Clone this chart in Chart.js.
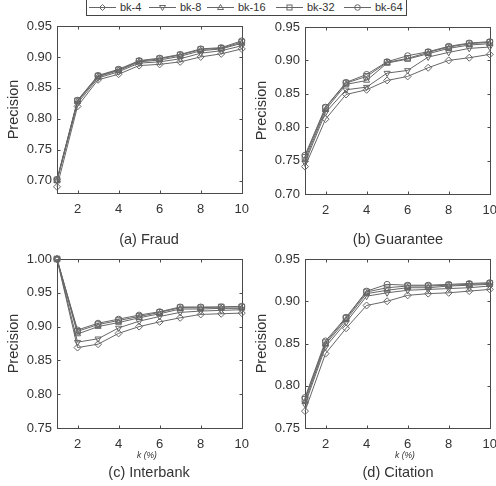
<!DOCTYPE html>
<html><head><meta charset="utf-8">
<script src="https://cdn.jsdelivr.net/npm/chart.js@4.4.0/dist/chart.umd.min.js"></script>
<style>
html,body{margin:0;padding:0;background:#fff;overflow:hidden;width:496px;height:486px;}
body{position:relative;font-family:"Liberation Sans",Arial,sans-serif;color:#333;}
canvas{position:absolute;}
.cap{position:absolute;font-size:14.5px;transform:translate(-50%,-50%);white-space:nowrap;color:#333;}
.kx{position:absolute;font-size:8.5px;font-style:italic;transform:translate(-50%,-50%);white-space:nowrap;color:#333;}
#legend{position:absolute;left:86px;top:-1px;width:321px;height:17px;border:1px solid #444;box-sizing:border-box;background:#fff;}
.li{position:absolute;top:0;height:15px;}
.li svg{position:absolute;left:0;top:0;}
.li span{position:absolute;left:31px;top:0;font-size:11px;line-height:15px;white-space:nowrap;color:#333;}
</style></head><body>
<canvas id="ca" width="258" height="220" style="left:0;top:0"></canvas>
<canvas id="cb" width="258" height="221" style="left:248px;top:0"></canvas>
<canvas id="cc" width="258" height="215" style="left:0;top:240px"></canvas>
<canvas id="cd" width="258" height="215" style="left:248px;top:240px"></canvas>
<div id="legend"></div>
<div class="cap" style="left:149px;top:239px">(a) Fraud</div>
<div class="cap" style="left:398px;top:239px">(b) Guarantee</div>
<div class="kx" style="left:147px;top:455px">k (%)</div>
<div class="kx" style="left:405px;top:455px">k (%)</div>
<div class="cap" style="left:149px;top:472px">(c) Interbank</div>
<div class="cap" style="left:398px;top:472px">(d) Citation</div>
<script>
// ---- data ----
const kValues = [1, 2, 3, 4, 5, 6, 7, 8, 9, 10];
const seriesNames = ['bk-4', 'bk-8', 'bk-16', 'bk-32', 'bk-64'];
const xTicks = [2, 4, 6, 8, 10];

const fraudBk4  = [0.690, 0.820, 0.863, 0.872, 0.886, 0.888, 0.892, 0.900, 0.905, 0.913];
const fraudBk8  = [0.700, 0.825, 0.866, 0.876, 0.890, 0.892, 0.897, 0.906, 0.910, 0.918];
const fraudBk16 = [0.700, 0.828, 0.868, 0.878, 0.892, 0.895, 0.901, 0.910, 0.913, 0.922];
const fraudBk32 = [0.701, 0.829, 0.869, 0.879, 0.893, 0.897, 0.903, 0.912, 0.914, 0.924];
const fraudBk64 = [0.702, 0.830, 0.870, 0.880, 0.894, 0.898, 0.904, 0.913, 0.915, 0.926];
const fraudYTicks = [0.70, 0.75, 0.80, 0.85, 0.90, 0.95];

const guarBk4  = [0.741, 0.812, 0.849, 0.856, 0.870, 0.876, 0.889, 0.900, 0.904, 0.909];
const guarBk8  = [0.747, 0.822, 0.856, 0.860, 0.881, 0.885, 0.905, 0.912, 0.918, 0.920];
const guarBk16 = [0.751, 0.826, 0.864, 0.870, 0.896, 0.902, 0.910, 0.918, 0.923, 0.925];
const guarBk32 = [0.755, 0.829, 0.866, 0.876, 0.897, 0.903, 0.912, 0.920, 0.925, 0.927];
const guarBk64 = [0.758, 0.830, 0.867, 0.879, 0.898, 0.907, 0.913, 0.921, 0.926, 0.928];
const guarYTicks = [0.70, 0.75, 0.80, 0.85, 0.90, 0.95];

const interBk4  = [1.000, 0.869, 0.874, 0.890, 0.900, 0.907, 0.913, 0.918, 0.919, 0.920];
const interBk8  = [1.000, 0.877, 0.882, 0.898, 0.908, 0.915, 0.921, 0.923, 0.924, 0.925];
const interBk16 = [1.000, 0.889, 0.900, 0.906, 0.913, 0.919, 0.926, 0.926, 0.927, 0.927];
const interBk32 = [1.000, 0.893, 0.903, 0.909, 0.915, 0.921, 0.928, 0.928, 0.929, 0.929];
const interBk64 = [1.000, 0.895, 0.905, 0.911, 0.917, 0.922, 0.929, 0.929, 0.929, 0.930];
const interYTicks = [0.75, 0.80, 0.85, 0.90, 0.95, 1.00];

const citeBk4  = [0.770, 0.838, 0.868, 0.895, 0.900, 0.907, 0.909, 0.910, 0.912, 0.914];
const citeBk8  = [0.778, 0.846, 0.875, 0.906, 0.910, 0.913, 0.914, 0.915, 0.916, 0.918];
const citeBk16 = [0.781, 0.849, 0.878, 0.909, 0.913, 0.916, 0.916, 0.918, 0.919, 0.920];
const citeBk32 = [0.784, 0.851, 0.880, 0.911, 0.916, 0.918, 0.918, 0.919, 0.920, 0.921];
const citeBk64 = [0.786, 0.853, 0.881, 0.912, 0.920, 0.919, 0.919, 0.920, 0.921, 0.922];
const citeYTicks = [0.75, 0.80, 0.85, 0.90, 0.95];

// ---- style ----
const FONT = '"Liberation Sans", Arial, sans-serif';
const LINE = '#666666';
const AXC = '#4a4a4a';
const TXT = '#333333';
const markers = [
  {style: 'rectRot', rot: 0, r: 3.5},
  {style: 'triangle', rot: 180, r: 3.5},
  {style: 'triangle', rot: 0, r: 3.5},
  {style: 'rect', rot: 0, r: 4},
  {style: 'circle', rot: 0, r: 3}
];

const boxPlugin = {
  id: 'matlabBox',
  beforeDatasetsDraw(chart) {
    const {ctx, chartArea} = chart;
    const {left, right, top, bottom} = chartArea;
    const x = chart.scales.x, y = chart.scales.y;
    ctx.save();
    ctx.strokeStyle = AXC;
    ctx.lineWidth = 1;
    const L = Math.round(left) + 0.5, R = Math.round(right) + 0.5;
    const T = Math.round(top) + 0.5, B = Math.round(bottom) + 0.5;
    ctx.strokeRect(L, T, R - L, B - T);
    const TL = 3;
    ctx.beginPath();
    x.ticks.forEach(t => {
      const px = Math.round(x.getPixelForValue(t.value)) + 0.5;
      ctx.moveTo(px, B); ctx.lineTo(px, B - TL);
      ctx.moveTo(px, T); ctx.lineTo(px, T + TL);
    });
    y.ticks.forEach(t => {
      const py = Math.round(y.getPixelForValue(t.value)) + 0.5;
      ctx.moveTo(L, py); ctx.lineTo(L + TL, py);
      ctx.moveTo(R, py); ctx.lineTo(R - TL, py);
    });
    ctx.stroke();
    ctx.restore();
  }
};

function makeChart(id, series, yMin, yMax, yTicks, padTop) {
  const ctx = document.getElementById(id).getContext('2d');
  return new Chart(ctx, {
    type: 'line',
    data: {
      datasets: series.map((vals, i) => ({
        label: seriesNames[i],
        data: kValues.map((k, j) => ({x: k, y: vals[j]})),
        borderColor: LINE,
        borderWidth: 1,
        backgroundColor: 'rgba(0,0,0,0)',
        fill: false,
        tension: 0,
        clip: false,
        pointStyle: markers[i].style,
        pointRotation: markers[i].rot,
        pointRadius: markers[i].r,
        pointBorderWidth: 1,
        pointBorderColor: LINE,
        pointBackgroundColor: 'rgba(0,0,0,0)'
      }))
    },
    options: {
      responsive: false,
      animation: false,
      devicePixelRatio: 1,
      layout: {padding: {top: padTop, right: 15, left: 0, bottom: 0}},
      plugins: {legend: {display: false}, tooltip: {enabled: false}},
      scales: {
        x: {
          type: 'linear', min: 1, max: 10,
          afterBuildTicks: s => { s.ticks = xTicks.map(v => ({value: v})); },
          afterFit: s => { s.height = 27; },
          grid: {display: false, drawTicks: false},
          border: {display: false},
          ticks: {font: {family: FONT, size: 13}, color: TXT, padding: 9, maxRotation: 0, autoSkip: false}
        },
        y: {
          type: 'linear', min: yMin, max: yMax,
          afterBuildTicks: s => { s.ticks = yTicks.map(v => ({value: v})); },
          afterFit: s => { s.width = 57; },
          grid: {display: false, drawTicks: false},
          border: {display: false},
          ticks: {font: {family: FONT, size: 13}, color: TXT, padding: 5, callback: v => Number(v).toFixed(2)},
          title: {display: true, text: 'Precision', font: {family: FONT, size: 14.5}, color: TXT, padding: {top: 5, bottom: 0}}
        }
      }
    },
    plugins: [boxPlugin]
  });
}

makeChart('ca', [fraudBk4, fraudBk8, fraudBk16, fraudBk32, fraudBk64], 0.68, 0.95, fraudYTicks, 26);
makeChart('cb', [guarBk4, guarBk8, guarBk16, guarBk32, guarBk64], 0.70, 0.95, guarYTicks, 27);
makeChart('cc', [interBk4, interBk8, interBk16, interBk32, interBk64], 0.75, 1.00, interYTicks, 19);
makeChart('cd', [citeBk4, citeBk8, citeBk16, citeBk32, citeBk64], 0.75, 0.95, citeYTicks, 19);

// ---- legend ----
const legendOffsets = [2, 62, 120, 189, 257];
function markerSvg(i) {
  const cx = 13.5, cy = 7.5;
  const st = `fill="none" stroke="${LINE}" stroke-width="1"`;
  let m = '';
  if (i === 0) m = `<polygon points="${cx},${cy-3} ${cx+3},${cy} ${cx},${cy+3} ${cx-3},${cy}" ${st}/>`;
  if (i === 1) m = `<polygon points="${cx-3},${cy-2} ${cx+3},${cy-2} ${cx},${cy+3}" ${st}/>`;
  if (i === 2) m = `<polygon points="${cx-3},${cy+2} ${cx+3},${cy+2} ${cx},${cy-3}" ${st}/>`;
  if (i === 3) m = `<rect x="${cx-2.5}" y="${cy-2.5}" width="5" height="5" ${st}/>`;
  if (i === 4) m = `<circle cx="${cx}" cy="${cy}" r="2.8" ${st}/>`;
  return `<svg width="27" height="15"><line x1="0" y1="${cy}" x2="27" y2="${cy}" stroke="${LINE}" stroke-width="1"/>${m}</svg>`;
}
const lg = document.getElementById('legend');
seriesNames.forEach((name, i) => {
  const d = document.createElement('div');
  d.className = 'li';
  d.style.left = legendOffsets[i] + 'px';
  d.innerHTML = markerSvg(i) + '<span>' + name + '</span>';
  lg.appendChild(d);
});
</script>
</body></html>
